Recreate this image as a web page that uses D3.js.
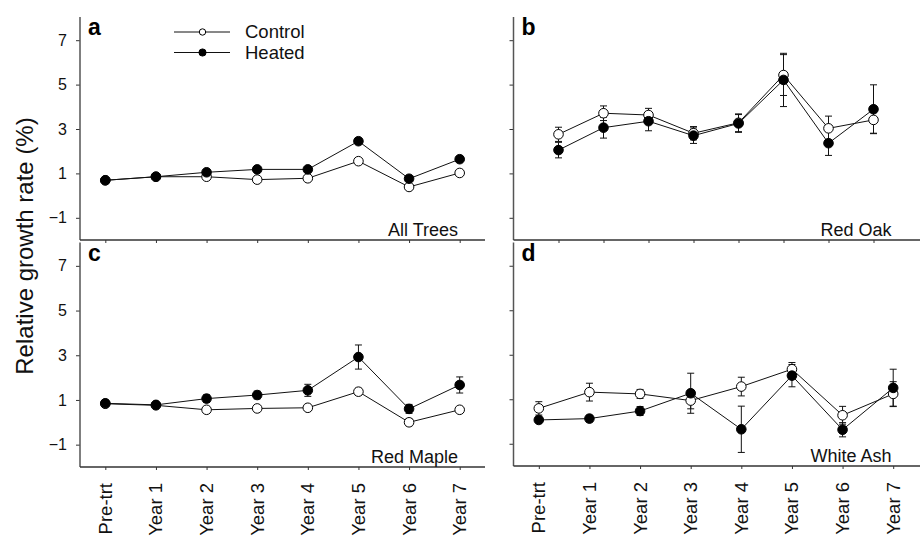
<!DOCTYPE html>
<html lang="en">
<head>
<meta charset="UTF-8" />
<title>Relative growth rate</title>
<script src="https://cdn.jsdelivr.net/npm/d3@7/dist/d3.min.js"></script>
<style>
    body { margin: 0; background: #fff; }
    svg { font-family: "Liberation Sans", Arial, Helvetica, sans-serif; }
</style>
</head>
<body>
<script>
    const periods = ['Pre-trt', 'Year 1', 'Year 2', 'Year 3', 'Year 4', 'Year 5', 'Year 6', 'Year 7'];
    const yTicks = [-1, 1, 3, 5, 7];

    // a - all trees (no error bars)
    const allCtrl = [0.69, 0.85, 0.85, 0.72, 0.78, 1.55, 0.39, 1.02];
    const allHeat = [0.69, 0.85, 1.05, 1.18, 1.18, 2.45, 0.76, 1.64];
    // b - red oak
    const oakCtrl = [2.76, 3.71, 3.63, 2.81, 3.28, 5.43, 3.03, 3.41];
    const oakCtrlSe = [0.32, 0.33, 0.30, 0.30, 0.40, 0.92, 0.55, 0.60];
    const oakHeat = [2.05, 3.06, 3.35, 2.70, 3.25, 5.21, 2.36, 3.89];
    const oakHeatSe = [0.35, 0.47, 0.43, 0.35, 0.40, 1.20, 0.55, 1.10];
    // c - red maple
    const mapleCtrl = [0.83, 0.76, 0.56, 0.62, 0.65, 1.37, 0.00, 0.56];
    const mapleCtrlSe = [0.10, 0.08, 0.10, 0.08, 0.08, 0.15, 0.15, 0.10];
    const mapleHeat = [0.85, 0.78, 1.06, 1.22, 1.43, 2.92, 0.60, 1.67];
    const mapleHeatSe = [0.15, 0.10, 0.17, 0.17, 0.27, 0.54, 0.20, 0.36];
    // d - white ash
    const ashCtrl = [0.59, 1.32, 1.24, 0.94, 1.57, 2.35, 0.28, 1.24];
    const ashCtrlSe = [0.30, 0.40, 0.20, 0.37, 0.42, 0.30, 0.40, 0.55];
    const ashHeat = [0.07, 0.13, 0.47, 1.27, -0.35, 2.06, -0.37, 1.51];
    const ashHeatSe = [0.08, 0.15, 0.20, 0.90, 1.04, 0.50, 0.32, 0.84];

    const width = 920, height = 536;

    const svg = d3.select('body').append('svg')
        .attr('width', width)
        .attr('height', height);

    const panels = [
        { letter: 'a', name: 'All Trees', left: 80, right: 485, top: 18, bottom: 240, pad: 0.5,
          ctrl: allCtrl, heat: allHeat, ctrlSe: null, heatSe: null, yLabels: true, xLabels: false },
        { letter: 'b', name: 'Red Oak', left: 513.5, right: 920, top: 18, bottom: 240, pad: 1,
          ctrl: oakCtrl, heat: oakHeat, ctrlSe: oakCtrlSe, heatSe: oakHeatSe, yLabels: false, xLabels: false },
        { letter: 'c', name: 'Red Maple', left: 80, right: 485, top: 243.5, bottom: 467, pad: 0.5,
          ctrl: mapleCtrl, heat: mapleHeat, ctrlSe: mapleCtrlSe, heatSe: mapleHeatSe, yLabels: true, xLabels: true },
        { letter: 'd', name: 'White Ash', left: 513.5, right: 920, top: 243.5, bottom: 466, pad: 0.5,
          ctrl: ashCtrl, heat: ashHeat, ctrlSe: ashCtrlSe, heatSe: ashHeatSe, yLabels: false, xLabels: true }
    ];

    const drawPanel = p => {
        const g = svg.append('g');

        const x = d3.scalePoint()
            .domain(periods)
            .range([p.left, p.left + 405])
            .padding(p.pad);

        const y = d3.scaleLinear()
            .domain([-2, 8])
            .range([p.bottom, p.top]);

        // y axis
        const yAxis = g.append('g')
            .attr('transform', `translate(${p.left},0)`)
            .call(d3.axisLeft(y).tickValues(yTicks).tickSize(4).tickSizeOuter(0)
                .tickFormat(p.yLabels ? d3.format('d') : ''));
        yAxis.select('.domain').remove();
        yAxis.selectAll('.tick line').attr('stroke', '#333');
        yAxis.selectAll('.tick text')
            .attr('font-size', 16)
            .attr('fill', '#111')
            .attr('x', -13);
        g.append('line')
            .attr('x1', p.left).attr('x2', p.left)
            .attr('y1', p.top - 1).attr('y2', p.bottom)
            .attr('stroke', '#555').attr('stroke-width', 1.5);

        // x axis
        const xAxis = g.append('g')
            .attr('transform', `translate(0,${p.bottom})`)
            .call(d3.axisBottom(x).tickSize(3).tickSizeOuter(0).tickFormat(''));
        xAxis.select('.domain').remove();
        xAxis.selectAll('.tick line').attr('stroke', '#333');
        g.append('line')
            .attr('x1', p.left).attr('x2', p.right)
            .attr('y1', p.bottom).attr('y2', p.bottom)
            .attr('stroke', '#333').attr('stroke-width', 1.5);

        if (p.xLabels) {
            g.append('g').selectAll('text')
                .data(periods)
                .join('text')
                .attr('transform', d => `translate(${x(d)},${p.bottom + 16}) rotate(-90)`)
                .attr('text-anchor', 'end')
                .attr('dy', '0.35em')
                .attr('font-size', 18.5)
                .attr('fill', '#111')
                .text(d => d);
        }

        const line = d3.line()
            .x((d, i) => x(periods[i]))
            .y(d => y(d));

        const series = [
            { values: p.ctrl, se: p.ctrlSe, fill: '#fff' },
            { values: p.heat, se: p.heatSe, fill: '#000' }
        ];

        // error bars first, under everything
        series.forEach(s => {
            if (!s.se) return;
            const eb = g.append('g')
                .attr('stroke', '#111')
                .attr('stroke-width', 1);
            s.values.forEach((v, i) => {
                const cx = x(periods[i]);
                const y0 = y(v - s.se[i]), y1 = y(v + s.se[i]);
                eb.append('line').attr('x1', cx).attr('x2', cx).attr('y1', y0).attr('y2', y1);
                eb.append('line').attr('x1', cx - 3.5).attr('x2', cx + 3.5).attr('y1', y0).attr('y2', y0);
                eb.append('line').attr('x1', cx - 3.5).attr('x2', cx + 3.5).attr('y1', y1).attr('y2', y1);
            });
        });

        series.forEach(s => {
            g.append('path')
                .datum(s.values)
                .attr('d', line)
                .attr('fill', 'none')
                .attr('stroke', '#111')
                .attr('stroke-width', 1);
        });

        series.forEach(s => {
            g.append('g').selectAll('circle')
                .data(s.values)
                .join('circle')
                .attr('cx', (d, i) => x(periods[i]))
                .attr('cy', d => y(d))
                .attr('r', 4.8)
                .attr('fill', s.fill)
                .attr('stroke', '#000')
                .attr('stroke-width', 1);
        });

        g.append('text')
            .attr('x', p.left + 8)
            .attr('y', p.top + 17)
            .attr('font-size', 23)
            .attr('font-weight', 'bold')
            .text(p.letter);

        g.append('text')
            .attr('x', p.left + 405 - 27)
            .attr('y', p.bottom - 4)
            .attr('text-anchor', 'end')
            .attr('font-size', 18)
            .attr('fill', '#111')
            .text(p.name);
    };

    panels.forEach(drawPanel);

    // legend
    const legendItems = [
        { label: 'Control', fill: '#fff', r: 3.2 },
        { label: 'Heated', fill: '#000', r: 3.6 }
    ];
    const legend = svg.append('g')
        .selectAll('g')
        .data(legendItems)
        .join('g')
        .attr('transform', (d, i) => `translate(174,${32 + i * 20.5})`);
    legend.append('line')
        .attr('x1', 0).attr('x2', 56)
        .attr('stroke', '#111').attr('stroke-width', 1);
    legend.append('circle')
        .attr('cx', 28.5)
        .attr('r', d => d.r)
        .attr('fill', d => d.fill)
        .attr('stroke', '#000');
    legend.append('text')
        .attr('x', 71)
        .attr('dy', '0.35em')
        .attr('font-size', 18.5)
        .attr('fill', '#111')
        .text(d => d.label);

    // y label
    svg.append('text')
        .attr('transform', 'translate(25,246) rotate(-90)')
        .attr('text-anchor', 'middle')
        .attr('dy', '0.35em')
        .attr('font-size', 24)
        .attr('fill', '#111')
        .text('Relative growth rate (%)');
</script>
</body>
</html>
